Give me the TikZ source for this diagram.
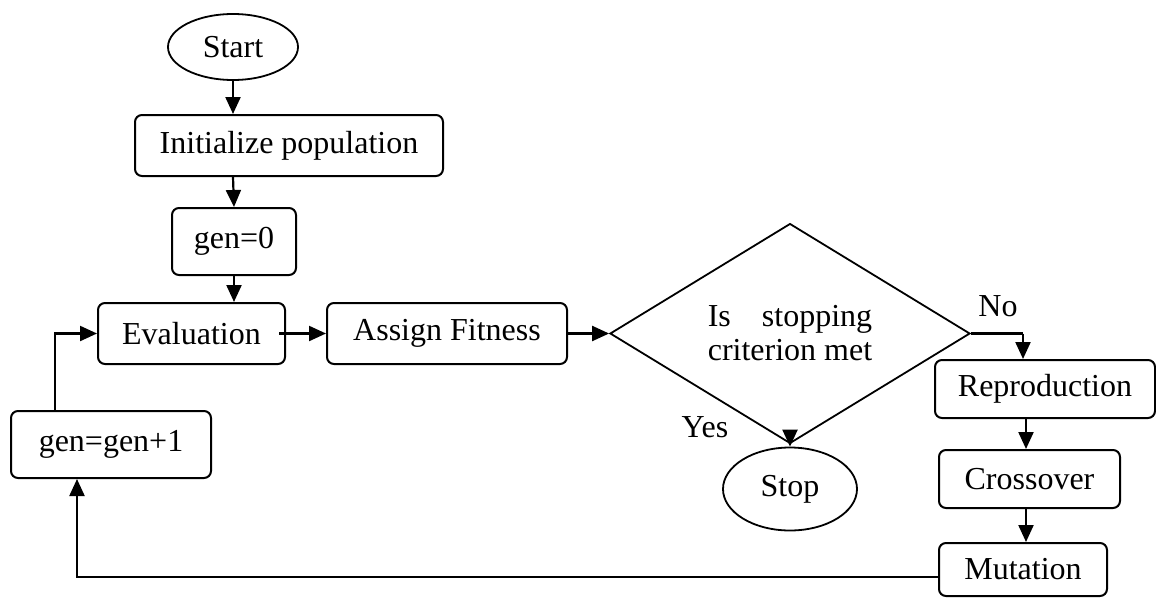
\documentclass[tikz,border=0pt]{standalone}
\usepackage{fontspec}
\usepackage{calc}
\setmainfont{Liberation Serif}
\usetikzlibrary{shapes.geometric,arrows.meta}
\begin{document}
\begin{tikzpicture}[x=1pt,y=-1pt,
  every node/.style={font=\fontsize{32}{37}\selectfont, inner sep=0pt},
  box/.style={draw, line width=2pt, rounded corners=7pt, rectangle},
  oval/.style={draw, line width=1.8pt, ellipse},
  decision/.style={draw, line width=1.8pt, diamond},
  arr/.style={line width=2.2pt, -{Triangle[length=17pt,width=15pt]}},
  ln/.style={line width=2.2pt}
]
\useasboundingbox (0,0) rectangle (1156,597);

\node[oval, minimum width=130pt, minimum height=66pt] (start) at (233,47) {Start};
\node[box, minimum width=308pt, minimum height=61pt] (init) at (289,145.5) {Initialize population};
\node[box, minimum width=124pt, minimum height=67pt] (gen0) at (234,241.5) {gen=0};
\node[box, minimum width=187pt, minimum height=61pt] (eval) at (191.5,333.5) {Evaluation};
\node[box, minimum width=240pt, minimum height=61pt] (assign) at (447,333.5) {Assign Fitness};
\node[decision, minimum width=360pt, minimum height=160pt] (dec) at (790,333.5)
  {\parbox{\widthof{criterion met}}{\fontsize{32}{34}\selectfont Is\hfill stopping\\criterion met}};
\node[box, minimum width=220pt, minimum height=58pt] (repro) at (1045,389) {Reproduction};
\node[box, minimum width=181pt, minimum height=58pt] (cross) at (1029.5,479) {Crossover};
\node[box, minimum width=168pt, minimum height=53pt] (mut) at (1023,569.5) {Mutation};
\node[oval, minimum width=134pt, minimum height=83pt] (stop) at (790,489) {Stop};
\node[box, minimum width=200pt, minimum height=67pt] (gen1) at (111,444.5) {gen=gen+1};

\node (no) at (998,306) {No};
\node (yes) at (705,427) {Yes};

\coordinate (noturn) at (1023,333.5);
\coordinate (fb) at (77,577);
\coordinate (lp) at (55,333.5);

\draw[arr] (start.south) -- (start.south |- init.north);
\draw[arr] (start.south |- init.south) -- (gen0.north);
\draw[arr] (gen0.south) -- (gen0.south |- eval.north);
\draw[arr, shorten <=-7pt] (eval.east) -- (assign.west);
\draw[arr] (assign.east) -- (dec.west);
\draw[ln] (dec.east) -- (noturn);
\draw[arr] (noturn) -- (noturn |- repro.north);
\draw[arr] (dec.south) -- (stop.north);
\draw[arr] ([xshift=-3.5pt]cross.north |- repro.south) -- ([xshift=-3.5pt]cross.north);
\draw[arr] ([xshift=3pt]mut.north |- cross.south) -- ([xshift=3pt]mut.north);
\draw[arr] (fb -| mut.west) -- (fb) -- (fb |- gen1.south);
\draw[arr] (lp |- gen1.north) -- (lp) -- (eval.west);
\end{tikzpicture}
\end{document}
